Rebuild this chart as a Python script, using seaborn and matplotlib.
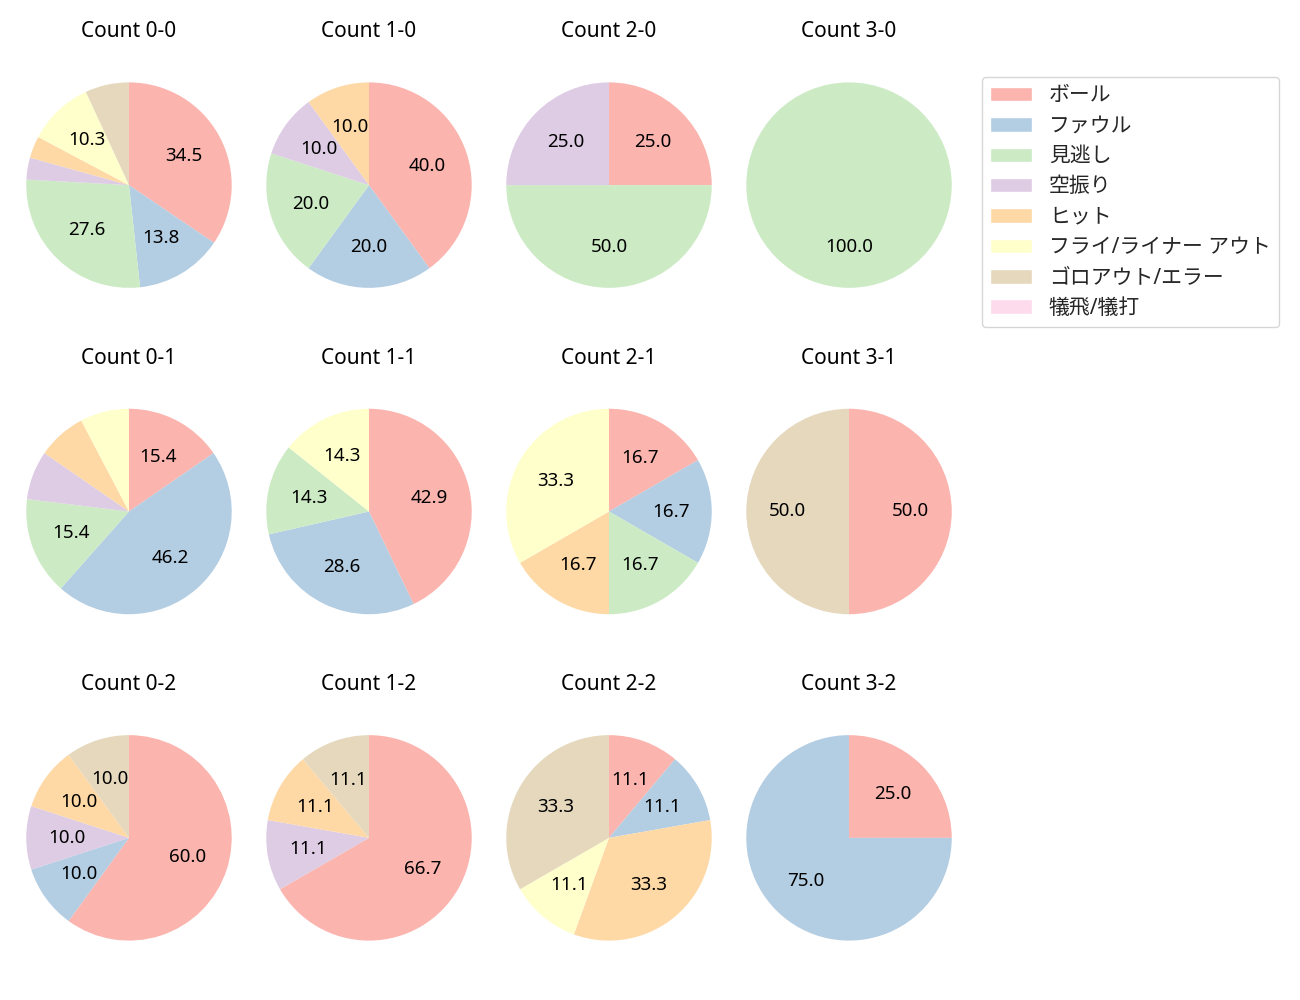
import matplotlib
matplotlib.use('Agg')
import seaborn as sns
import matplotlib.pyplot as plt
from matplotlib.patches import Patch

sns.set_theme(style='white')
plt.rcParams['font.family'] = ['Noto Sans', 'Noto Sans CJK JP', 'DejaVu Sans']

categories = ['ボール', 'ファウル', '見逃し', '空振り', 'ヒット',
              'フライ/ライナー アウト', 'ゴロアウト/エラー', '犠飛/犠打']

# pitch results per count (balls-strikes), same order as categories
count_0_0 = [10, 4, 8, 1, 1, 3, 2, 0]
count_1_0 = [4, 2, 2, 1, 1, 0, 0, 0]
count_2_0 = [1, 0, 2, 1, 0, 0, 0, 0]
count_3_0 = [0, 0, 1, 0, 0, 0, 0, 0]
count_0_1 = [2, 6, 2, 1, 1, 1, 0, 0]
count_1_1 = [3, 2, 1, 0, 0, 1, 0, 0]
count_2_1 = [1, 1, 1, 0, 1, 2, 0, 0]
count_3_1 = [1, 0, 0, 0, 0, 0, 1, 0]
count_0_2 = [6, 1, 0, 1, 1, 0, 1, 0]
count_1_2 = [6, 0, 0, 1, 1, 0, 1, 0]
count_2_2 = [1, 1, 0, 0, 3, 1, 3, 0]
count_3_2 = [1, 3, 0, 0, 0, 0, 0, 0]

grid = [
    [('0-0', count_0_0), ('1-0', count_1_0), ('2-0', count_2_0), ('3-0', count_3_0)],
    [('0-1', count_0_1), ('1-1', count_1_1), ('2-1', count_2_1), ('3-1', count_3_1)],
    [('0-2', count_0_2), ('1-2', count_1_2), ('2-2', count_2_2), ('3-2', count_3_2)],
]

colors = sns.color_palette('Pastel1', len(categories))


def fmt(pct):
    return f'{pct:.1f}' if pct >= 9.5 else ''


fig, axes = plt.subplots(3, 4, figsize=(13, 10), dpi=100)
fig.subplots_adjust(left=0.0069, right=0.7454, top=0.945, bottom=0.032,
                    wspace=0.0, hspace=0.254)

for r, row in enumerate(grid):
    for c, (name, vals) in enumerate(row):
        ax = axes[r][c]
        ax.pie(vals, colors=colors, startangle=90, counterclock=False,
               autopct=fmt, radius=1.07, wedgeprops={'linewidth': 0},
               textprops={'fontsize': 13.5, 'color': 'black'})
        ax.set_title(f'Count {name}', fontsize=15, pad=20, color='black')

handles = [Patch(facecolor=col, label=lab) for col, lab in zip(colors, categories)]
fig.legend(handles=handles, loc='upper left', bbox_to_anchor=(0.7555, 0.923),
           borderaxespad=0, fontsize=15, handlelength=2.0, labelspacing=0.45,
           frameon=True)

fig.savefig('out.png')
